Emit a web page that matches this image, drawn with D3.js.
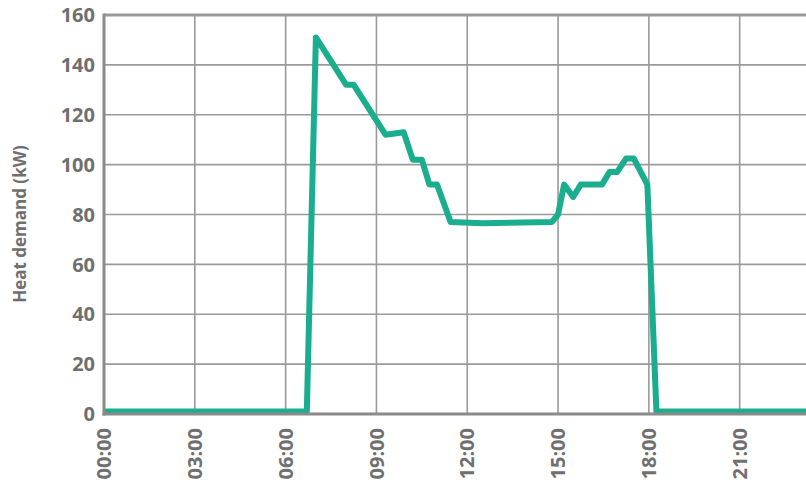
<!DOCTYPE html>
<html>
<head>
<meta charset="utf-8">
<script src="https://cdn.jsdelivr.net/npm/d3@7"></script>
<style>
  body { margin: 0; background: #fff; }
  svg { display: block; }
  text { font-family: "Open Sans", sans-serif; font-weight: bold; fill: #6f6f6f; }
</style>
</head>
<body>
<div id="chart"></div>
<script>
const W = 806, H = 489
const MARGIN = {TOP: 15, LEFT: 104, BOTTOM: 75}

// hours of the day and heat demand in kW
const hours = [0, 6.7, 7.0, 8.0, 8.25, 9.3, 9.9, 10.2, 10.5, 10.75, 11.0, 11.45, 12.5, 14.8, 15.0, 15.2, 15.5, 15.75, 16.45, 16.7, 16.95, 17.25, 17.5, 17.95, 18.25, 24]
const demand = [1, 1, 151, 132, 132, 112, 113, 102, 102, 92, 92, 77, 76.5, 77, 80, 92, 87, 92, 92, 97, 97, 102.5, 102.5, 92, 1, 1]

const xTicks = [0, 3, 6, 9, 12, 15, 18, 21]
const xTickLabels = ["00:00", "03:00", "06:00", "09:00", "12:00", "15:00", "18:00", "21:00"]
const yTicks = [0, 20, 40, 60, 80, 100, 120, 140, 160]

const data = hours.map(function(h, i) { return {h: h, v: demand[i]} })

const svg = d3.select("#chart").append("svg")
  .attr("width", W)
  .attr("height", H)

const x = d3.scaleLinear()
  .domain([0, 24])
  .range([MARGIN.LEFT, MARGIN.LEFT + 24 * 30.27])

const y = d3.scaleLinear()
  .domain([0, 160])
  .range([414, MARGIN.TOP])

// grid
svg.append("g")
  .selectAll("line.h")
  .data(yTicks.slice(1))
  .enter().append("line")
    .attr("x1", x(0)).attr("x2", W)
    .attr("y1", function(d) { return y(d) })
    .attr("y2", function(d) { return y(d) })
    .attr("stroke", "#9a9a9a")
    .attr("stroke-width", function(d) { return d == 160 ? 3 : 1.6 })

svg.append("g")
  .selectAll("line.v")
  .data(xTicks.slice(1))
  .enter().append("line")
    .attr("x1", function(d) { return x(d) })
    .attr("x2", function(d) { return x(d) })
    .attr("y1", y(160)).attr("y2", y(0))
    .attr("stroke", "#9a9a9a")
    .attr("stroke-width", 1.6)

// the line
const line = d3.line()
  .x(function(d) { return x(d.h) })
  .y(function(d) { return y(d.v) })

svg.append("path")
  .datum(data)
  .attr("d", line)
  .attr("fill", "none")
  .attr("stroke", "#1aae8e")
  .attr("stroke-width", 6)
  .attr("stroke-linejoin", "round")

// axes frame
svg.append("line")
  .attr("x1", x(0)).attr("x2", x(0))
  .attr("y1", y(160) - 1.5).attr("y2", y(0) + 1.5)
  .attr("stroke", "#8a8a8a").attr("stroke-width", 3)
svg.append("line")
  .attr("x1", x(0) - 1.5).attr("x2", W)
  .attr("y1", y(0)).attr("y2", y(0))
  .attr("stroke", "#8a8a8a").attr("stroke-width", 3)

// y tick labels
svg.append("g")
  .selectAll("text")
  .data(yTicks)
  .enter().append("text")
    .attr("x", 95)
    .attr("y", function(d) { return y(d) })
    .attr("dy", "0.36em")
    .attr("text-anchor", "end")
    .attr("font-size", "20px")
    .text(function(d) { return d })

// x tick labels
svg.append("g")
  .selectAll("text")
  .data(xTicks)
  .enter().append("text")
    .attr("transform", function(d) { return `translate(${x(d)}, 428) rotate(-90)` })
    .attr("dy", "0.36em")
    .attr("text-anchor", "end")
    .attr("font-size", "20px")
    .text(function(d, i) { return xTickLabels[i] })

// Y label
svg.append("text")
  .attr("transform", "translate(20, 224) rotate(-90)")
  .attr("dy", "0.36em")
  .attr("text-anchor", "middle")
  .attr("font-size", "17px")
  .text("Heat demand (kW)")
</script>
</body>
</html>
